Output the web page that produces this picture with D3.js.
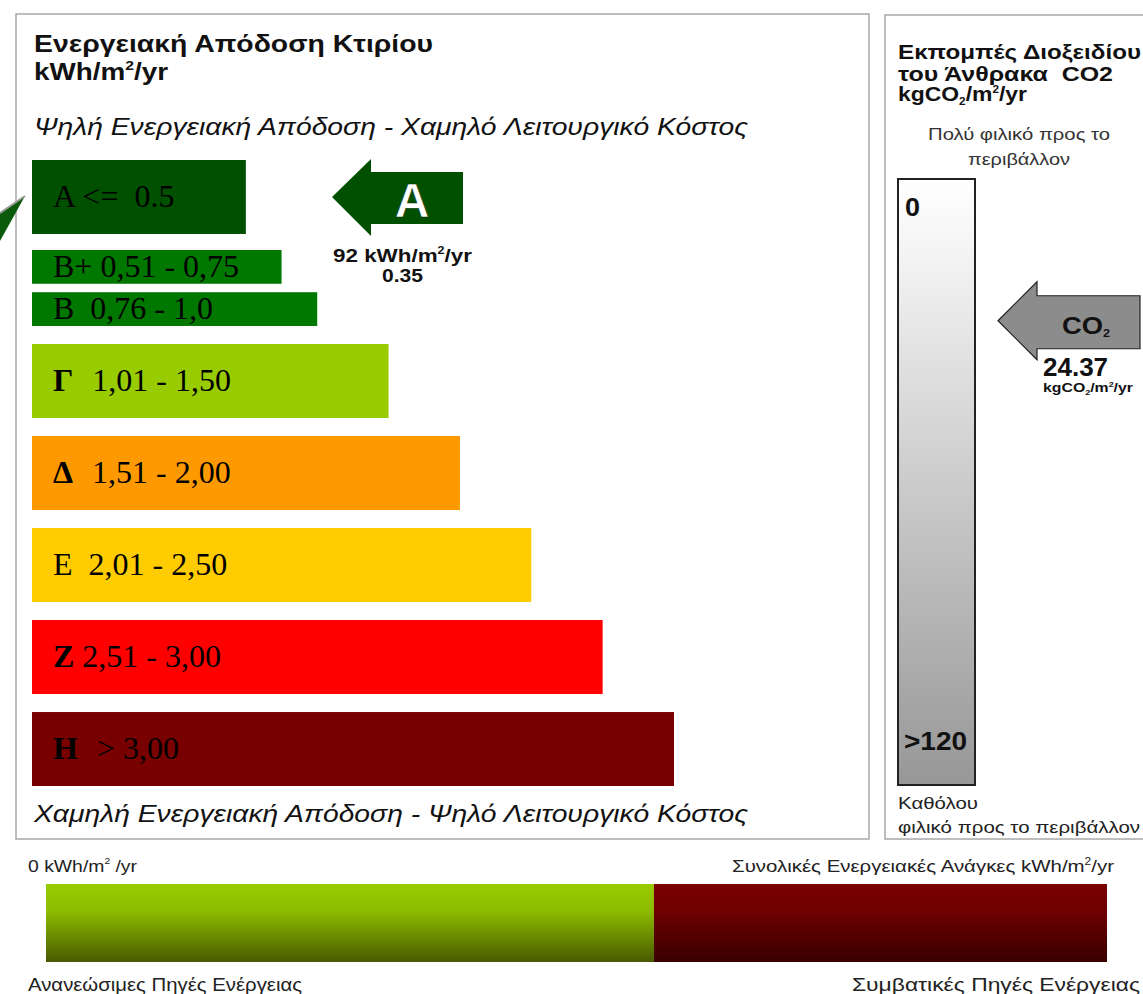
<!DOCTYPE html>
<html>
<head>
<meta charset="utf-8">
<script src="https://cdn.jsdelivr.net/npm/d3@7"></script>
<style>
  body { margin: 0; background: #fff; }
  svg text { white-space: pre; }
</style>
</head>
<body>
<svg id="chart" width="1143" height="994"></svg>
<script>
// energy classes
const classLetters = ["A", "B+", "B", "Γ", "Δ", "Ε", "Ζ", "Η"];
const classRanges = ["<=  0.5", "0,51 - 0,75", " 0,76 - 1,0", " 1,01 - 1,50", " 1,51 - 2,00", " 2,01 - 2,50", "2,51 - 3,00", " > 3,00"];
const classUpper = [0.5, 0.75, 1.0, 1.5, 2.0, 2.5, 3.0, 3.5];
const classColors = ["#005000", "#007800", "#007800", "#99cc00", "#ff9900", "#ffcc00", "#ff0000", "#780000"];
const boldLetters = ["Γ", "Δ", "Ζ", "Η"];

// building result
const buildingClass = "A";
const energyValue = 92;
const energyRatio = "0.35";

// CO2 column
const co2Domain = [0, 120];
const co2TickLabels = ["0", ">120"];
const co2Value = 24.37;

// renewable vs conventional share
const renewableShare = 0.573;

const svg = d3.select("#chart");
const defs = svg.append("defs");
const SANS = "Liberation Sans, Arial, sans-serif";
const SERIF = "Liberation Serif, Times New Roman, serif";

// stretch a text to the width seen in the picture
const fit = (sel, len) => sel.attr("textLength", len).attr("lengthAdjust", "spacingAndGlyphs");

// panels
svg.append("rect").attr("x", 16).attr("y", 14).attr("width", 853).attr("height", 825)
  .attr("fill", "none").attr("stroke", "#a8a8a8").attr("stroke-width", 1.5);
svg.append("rect").attr("x", 885).attr("y", 15).attr("width", 270).attr("height", 824)
  .attr("fill", "none").attr("stroke", "#a8a8a8").attr("stroke-width", 1.5);

// left titles
svg.append("text").attr("x", 34).attr("y", 52).attr("font-family", SANS).attr("font-weight", "bold")
  .attr("font-size", 23).attr("fill", "#111").text("Ενεργειακή Απόδοση Κτιρίου")
  .call(fit, 399);
const unitT = svg.append("text").attr("x", 34).attr("y", 80).attr("font-family", SANS).attr("font-weight", "bold")
  .attr("font-size", 23).attr("fill", "#111");
unitT.append("tspan").text("kWh/m");
unitT.append("tspan").attr("font-size", 13).attr("dy", -10).text("2");
unitT.append("tspan").attr("dy", 10).text("/yr");
fit(unitT, 134);

svg.append("text").attr("x", 34).attr("y", 135).attr("font-family", SANS).attr("font-style", "italic")
  .attr("font-size", 24).attr("fill", "#111").text("Ψηλή Ενεργειακή Απόδοση - Χαμηλό Λειτουργικό Κόστος")
  .call(fit, 714);
svg.append("text").attr("x", 34).attr("y", 822).attr("font-family", SANS).attr("font-style", "italic")
  .attr("font-size", 24).attr("fill", "#111").text("Χαμηλή Ενεργειακή Απόδοση - Ψηλό Λειτουργικό Κόστος")
  .call(fit, 714);

// scales
const rowKey = l => l.replace("+", "");
const rows = Array.from(new Set(classLetters.map(rowKey)));
const y = d3.scaleBand().domain(rows).range([160, 786]).paddingInner(0.196);
const ySub = d3.scaleBand().domain(["B+", "B"]).range([-2, y.bandwidth()]).paddingInner(0.2);
const w = d3.scaleLinear().domain([0, 3.5]).range([142.5, 642]);
const X0 = 32;

const classes = classLetters.map((l, i) => {
  const split = classLetters.filter(c => rowKey(c) === rowKey(l)).length > 1;
  return {
    letter: l, range: classRanges[i], upper: classUpper[i], color: classColors[i],
    y: y(rowKey(l)) + (split ? ySub(l) : 0),
    h: split ? ySub.bandwidth() : y.bandwidth()
  };
});

const g = svg.append("g");
g.selectAll("rect.cls").data(classes).enter().append("rect")
  .attr("class", "cls")
  .attr("x", X0)
  .attr("y", d => d.y)
  .attr("width", d => w(d.upper))
  .attr("height", d => d.h)
  .attr("fill", d => d.color);

const labels = g.selectAll("text.cls").data(classes).enter().append("text")
  .attr("class", "cls")
  .attr("x", 53)
  .attr("y", d => d.y + d.h / 2 + 10)
  .attr("font-family", SERIF)
  .attr("font-size", 32)
  .attr("fill", "#000");
labels.append("tspan")
  .attr("font-weight", d => boldLetters.includes(d.letter) ? "bold" : "normal")
  .text(d => d.letter);
labels.append("tspan")
  .attr("dx", d => boldLetters.includes(d.letter) && d.letter !== "Ζ" ? 3 : 0)
  .text(d => " " + d.range);

// small wedge at left edge
const aMid = y(rowKey(buildingClass)) + y.bandwidth() / 2;
svg.append("path")
  .attr("d", d3.line()([[25, aMid - 1], [0, aMid + 16], [0, aMid + 44]]))
  .attr("fill", "#0b5a0b");
svg.append("line").attr("x1", 25).attr("y1", aMid - 1).attr("x2", 0).attr("y2", aMid + 16)
  .attr("stroke", "#9a9a9a").attr("stroke-width", 2);

// rating arrow
const tipX = 332;
const arrowPts = [
  [tipX, aMid], [tipX + 39, aMid - 38], [tipX + 39, aMid - 25], [463, aMid - 25],
  [463, aMid + 27], [tipX + 39, aMid + 27], [tipX + 39, aMid + 39]
];
svg.append("path").attr("d", d3.line()(arrowPts) + "Z").attr("fill", "#005000");
svg.append("text").attr("x", 412).attr("y", aMid + 20).attr("text-anchor", "middle")
  .attr("font-family", SANS).attr("font-weight", "bold").attr("font-size", 48)
  .attr("fill", "#fff").attr("stroke", "#0a2a0a").attr("stroke-width", 0.6)
  .text(buildingClass);
const ev = svg.append("text").attr("x", 333).attr("y", 262)
  .attr("font-family", SANS).attr("font-weight", "bold").attr("font-size", 18).attr("fill", "#111");
ev.append("tspan").text(energyValue + " kWh/m");
ev.append("tspan").attr("font-size", 10).attr("dy", -8).text("2");
ev.append("tspan").attr("dy", 8).text("/yr");
fit(ev, 139);
svg.append("text").attr("x", 382).attr("y", 282)
  .attr("font-family", SANS).attr("font-weight", "bold").attr("font-size", 18).attr("fill", "#111")
  .text(energyRatio).call(fit, 41);

// right panel titles
svg.append("text").attr("x", 898).attr("y", 59).attr("font-family", SANS).attr("font-weight", "bold")
  .attr("font-size", 19.5).attr("fill", "#111").text("Εκπομπές Διοξειδίου").call(fit, 243);
svg.append("text").attr("x", 898).attr("y", 81).attr("font-family", SANS).attr("font-weight", "bold")
  .attr("font-size", 19.5).attr("fill", "#111").text("του Άνθρακα  CO2").call(fit, 215);
const rt3 = svg.append("text").attr("x", 898).attr("y", 101).attr("font-family", SANS).attr("font-weight", "bold")
  .attr("font-size", 19.5).attr("fill", "#111");
rt3.append("tspan").text("kgCO");
rt3.append("tspan").attr("font-size", 10).attr("dy", 4).text("2");
rt3.append("tspan").attr("dy", -4).text("/m");
rt3.append("tspan").attr("font-size", 10).attr("dy", -8).text("2");
rt3.append("tspan").attr("dy", 8).text("/yr");
fit(rt3, 129);

svg.append("text").attr("x", 928).attr("y", 140).attr("font-family", SANS)
  .attr("font-size", 16).attr("fill", "#333").text("Πολύ φιλικό προς το").call(fit, 182);
svg.append("text").attr("x", 968).attr("y", 165).attr("font-family", SANS)
  .attr("font-size", 16).attr("fill", "#333").text("περιβάλλον").call(fit, 102);

// CO2 column
const co2 = d3.scaleLinear().domain(co2Domain).range([205, 775]);
const grad = defs.append("linearGradient").attr("id", "co2g").attr("x1", 0).attr("y1", 0).attr("x2", 0).attr("y2", 1);
grad.append("stop").attr("offset", "0%").attr("stop-color", "#ffffff");
grad.append("stop").attr("offset", "12%").attr("stop-color", "#f4f4f4");
grad.append("stop").attr("offset", "100%").attr("stop-color", "#979797");
svg.append("rect").attr("x", 898).attr("y", 179).attr("width", 77).attr("height", 606)
  .attr("fill", "url(#co2g)").attr("stroke", "#222").attr("stroke-width", 2);
svg.selectAll("text.co2t").data(co2TickLabels).enter().append("text")
  .attr("class", "co2t")
  .attr("x", (d, i) => i === 0 ? 905 : 904)
  .attr("y", (d, i) => i === 0 ? co2(co2Domain[0]) + 11 : co2(co2Domain[1]) - 25)
  .attr("font-family", SANS).attr("font-weight", "bold").attr("font-size", 25).attr("fill", "#111")
  .attr("textLength", (d, i) => i === 0 ? 15 : 63).attr("lengthAdjust", "spacingAndGlyphs")
  .text(d => d);

// CO2 arrow
const cy = co2(co2Value);
const cTip = 998;
const co2Pts = [
  [cTip, cy], [cTip + 39, cy - 39], [cTip + 39, cy - 25], [1140, cy - 25],
  [1140, cy + 28], [cTip + 39, cy + 28], [cTip + 39, cy + 39]
];
svg.append("path").attr("d", d3.line()(co2Pts) + "Z").attr("fill", "#8c8c8c")
  .attr("stroke", "#222").attr("stroke-width", 1.2);
const cl = svg.append("text").attr("x", 1062).attr("y", cy + 13).attr("font-family", SANS)
  .attr("font-weight", "bold").attr("font-size", 24).attr("fill", "#111");
cl.append("tspan").text("CO");
cl.append("tspan").attr("font-size", 11).attr("dy", 3).text("2");
fit(cl, 48);
svg.append("text").attr("x", 1043).attr("y", cy + 55).attr("font-family", SANS)
  .attr("font-weight", "bold").attr("font-size", 26).attr("fill", "#111").text(co2Value.toFixed(2));
const cu = svg.append("text").attr("x", 1043).attr("y", cy + 71).attr("font-family", SANS)
  .attr("font-weight", "bold").attr("font-size", 12.5).attr("fill", "#111");
cu.append("tspan").text("kgCO");
cu.append("tspan").attr("font-size", 7).attr("dy", 3).text("2");
cu.append("tspan").attr("dy", -3).text("/m");
cu.append("tspan").attr("font-size", 7).attr("dy", -5).text("2");
cu.append("tspan").attr("dy", 5).text("/yr");
fit(cu, 90);

svg.append("text").attr("x", 898).attr("y", 809).attr("font-family", SANS).attr("font-size", 17)
  .attr("fill", "#222").text("Καθόλου").call(fit, 80);
svg.append("text").attr("x", 898).attr("y", 833).attr("font-family", SANS).attr("font-size", 17)
  .attr("fill", "#222").text("φιλικό προς το περιβάλλον").call(fit, 242);

// bottom bar
const xs = d3.scaleLinear().domain([0, 1]).range([46, 1107]);
const gg = defs.append("linearGradient").attr("id", "gg").attr("x1", 0).attr("y1", 0).attr("x2", 0).attr("y2", 1);
gg.append("stop").attr("offset", "0%").attr("stop-color", "#99cc00");
gg.append("stop").attr("offset", "35%").attr("stop-color", "#8cbb00");
gg.append("stop").attr("offset", "100%").attr("stop-color", "#485a00");
const rg = defs.append("linearGradient").attr("id", "rg").attr("x1", 0).attr("y1", 0).attr("x2", 0).attr("y2", 1);
rg.append("stop").attr("offset", "0%").attr("stop-color", "#7a0000");
rg.append("stop").attr("offset", "35%").attr("stop-color", "#6e0000");
rg.append("stop").attr("offset", "100%").attr("stop-color", "#380000");
const share = [
  { from: 0, to: renewableShare, fill: "url(#gg)" },
  { from: renewableShare, to: 1, fill: "url(#rg)" }
];
svg.selectAll("rect.share").data(share).enter().append("rect")
  .attr("class", "share")
  .attr("x", d => xs(d.from))
  .attr("y", 884)
  .attr("width", d => xs(d.to) - xs(d.from))
  .attr("height", 78)
  .attr("fill", d => d.fill);

const l0 = svg.append("text").attr("x", 28).attr("y", 872).attr("font-family", SANS).attr("font-size", 17).attr("fill", "#222");
l0.append("tspan").text("0 kWh/m");
l0.append("tspan").attr("font-size", 9).attr("dy", -8).text("2");
l0.append("tspan").attr("dy", 8).text(" /yr");
fit(l0, 109);
const l1 = svg.append("text").attr("x", 732).attr("y", 872).attr("font-family", SANS)
  .attr("font-size", 17).attr("fill", "#222");
l1.append("tspan").text("Συνολικές Ενεργειακές Ανάγκες kWh/m");
l1.append("tspan").attr("font-size", 10).attr("dy", -7).text("2");
l1.append("tspan").attr("dy", 7).text("/yr");
fit(l1, 382);
svg.append("text").attr("x", 28).attr("y", 991).attr("font-family", SANS).attr("font-size", 18).attr("fill", "#222")
  .text("Ανανεώσιμες Πηγές Ενέργειας").call(fit, 274);
svg.append("text").attr("x", 852).attr("y", 991).attr("font-family", SANS)
  .attr("font-size", 18).attr("fill", "#222").text("Συμβατικές Πηγές Ενέργειας").call(fit, 288);
</script>
</body>
</html>
